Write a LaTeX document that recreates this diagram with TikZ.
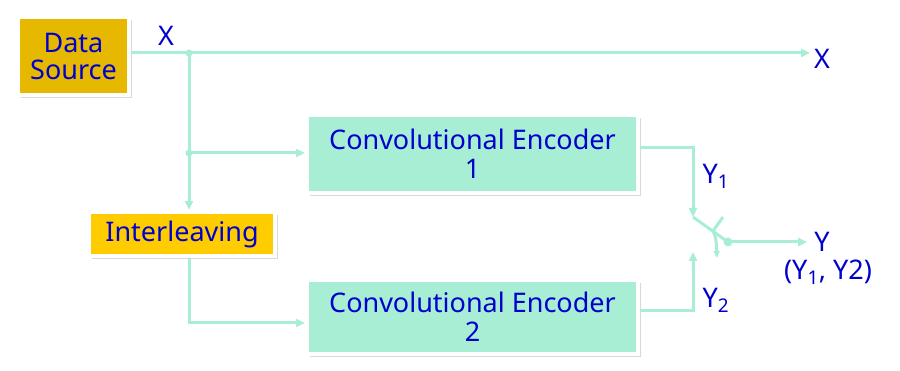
\documentclass[tikz,border=0pt]{standalone}
\usepackage{fontspec}
\setmainfont{Noto Sans}
\usetikzlibrary{shadows,arrows.meta}
\definecolor{mint}{HTML}{A8EED4}
\definecolor{gold}{HTML}{E6B800}
\definecolor{amber}{HTML}{FFCC00}
\definecolor{txtblue}{HTML}{0000CC}

\begin{document}
\begin{tikzpicture}[x=1pt,y=-1pt,
  blk/.style={draw=white,line width=4pt,
    drop shadow={shadow xshift=3pt,shadow yshift=-3.5pt,opacity=0.3},
    text=txtblue,font=\fontsize{27}{31}\selectfont,inner sep=0pt,align=center},
  wire/.style={draw=mint,line width=3pt},
  arr/.style={wire,-{Triangle[length=9pt,width=8pt]}},
  lbl/.style={text=txtblue,font=\fontsize{27}{31}\selectfont,inner sep=0pt}]
  \useasboundingbox (0,0) rectangle (900,371);
  % boxes
  \node[blk,fill=gold,minimum width=111,minimum height=78] (src) at (73.5,56) {Data\\[-4pt]Source};
  \node[blk,fill=amber,minimum width=186,minimum height=44] (il) at (182,234) {Interleaving};
  \node[blk,fill=mint,minimum width=331,minimum height=78] (enc1) at (472.5,154) {Convolutional Encoder\\[-2pt]1};
  \node[blk,fill=mint,minimum width=331,minimum height=74] (enc2) at (472.5,317) {Convolutional Encoder\\[-2pt]2};
  % labels
  \node[lbl] (inX) at (166,36) {X};
  \node[lbl] (outX) at (822,59) {X};
  \node[lbl] (lY1) at (716,176) {Y\textsubscript{1}};
  \node[lbl] (lY2) at (716,300) {Y\textsubscript{2}};
  \node[lbl] (outY) at (822,242) {Y};
  \node[lbl] (lYY) at (828,272) {(Y\textsubscript{1}, Y2)};
  % junctions and switch
  \coordinate (j1) at (189,53);
  \coordinate (j2) at (189,153);
  \coordinate (in2) at (305,323);
  \coordinate (xEnd) at (810,53);
  \coordinate (swA) at (693,217);
  \coordinate (swB) at (693,252);
  \coordinate (swC) at (728,242);
  % wires
  \draw[arr] (src.east |- j1) -- (xEnd);
  \draw[arr] (j1) -- (j1 |- il.north);
  \draw[arr] (j2) -- (enc1.west |- j2);
  \draw[arr] (j1 |- il.south) |- (in2);
  \draw[arr] ([yshift=6pt]enc1.east) -| (swA);
  \draw[arr] ([yshift=6pt]enc2.east) -| (swB);
  \draw[wire] (swA) -- (swC);
  \draw[wire] (723,217) -- (713,231);
  \draw[wire,-{Triangle[length=7pt,width=6pt]}] (713,231) .. controls (716,238) .. (717,258);
  \draw[arr] (swC) -- ([xshift=-7pt]outY.west);
  \fill[mint] (j1) circle (3.5) (j2) circle (3.5) (swC) circle (4.5);
\end{tikzpicture}
\end{document}
